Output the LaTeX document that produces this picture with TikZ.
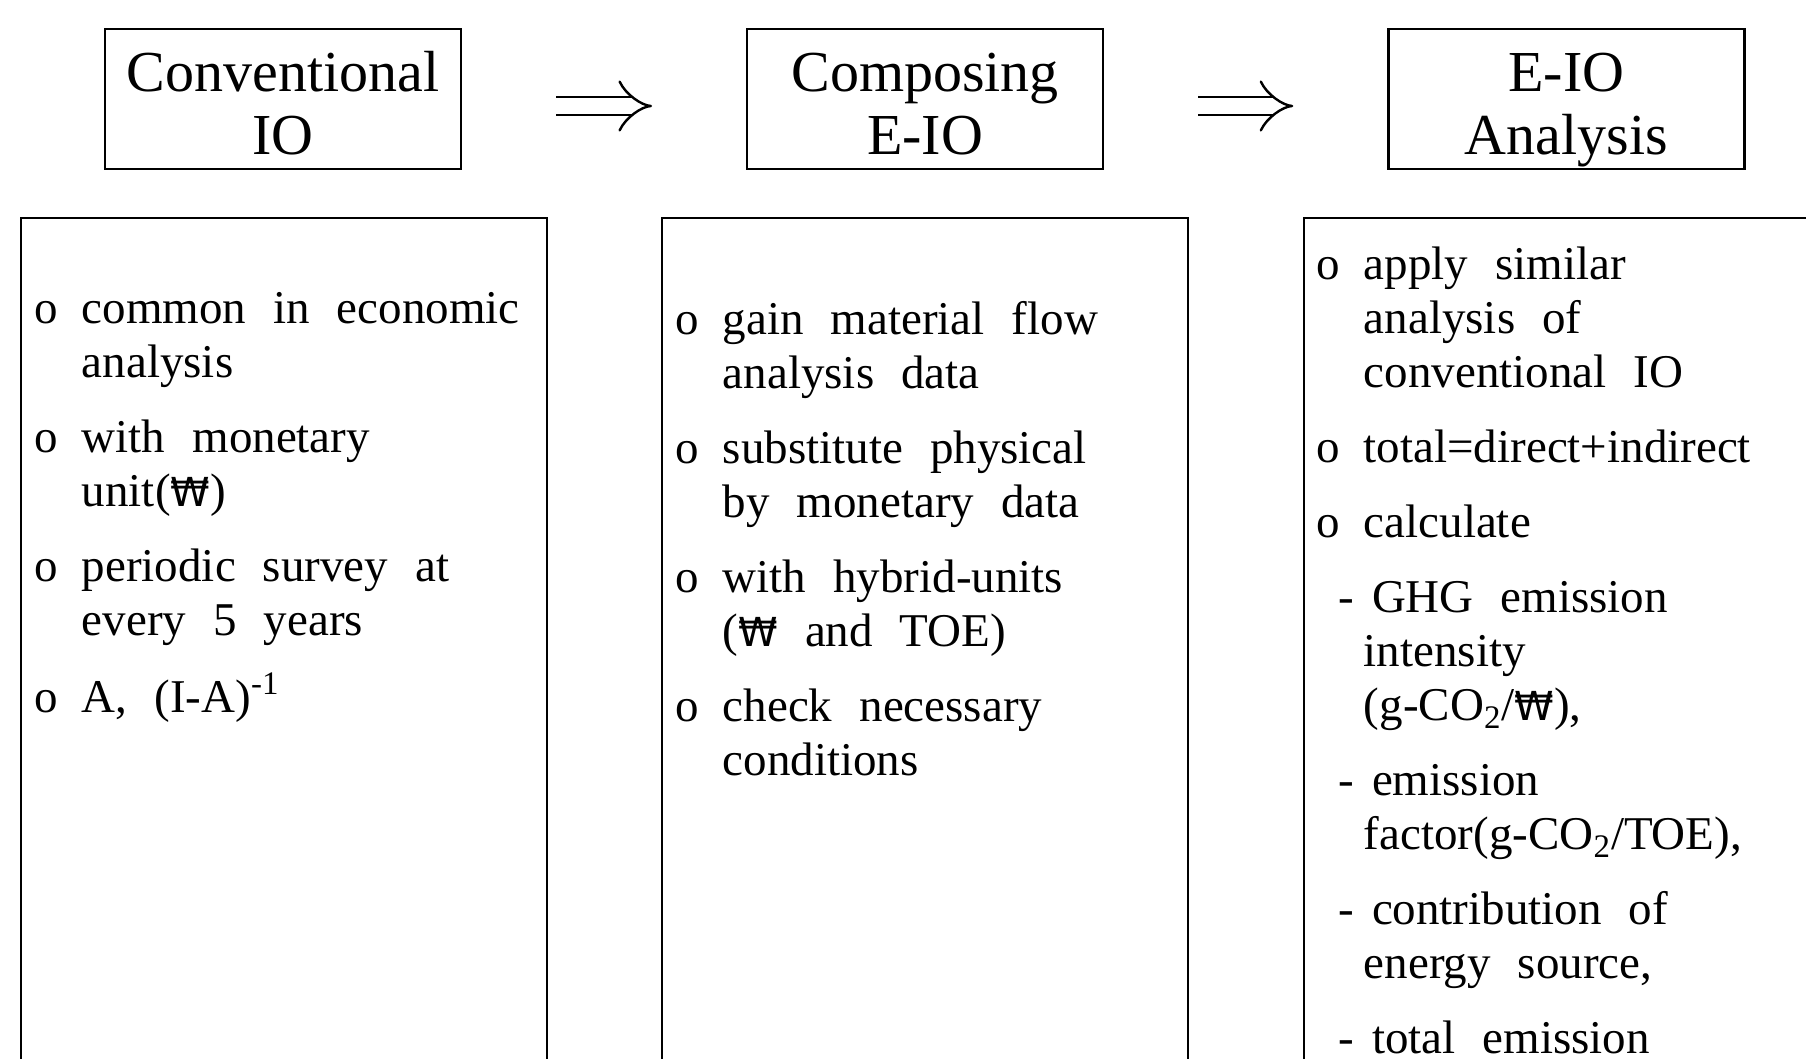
\documentclass[tikz,border=0pt]{standalone}
\usepackage{fontspec}
\setmainfont[WordSpace=2.3]{Liberation Serif}
\newfontfamily\wonfont[Scale=0.85]{DejaVu Sans}
\newcommand{\won}{{\wonfont ₩}}
\newcommand{\stagetext}[2]{\raisebox{0pt}[24.5pt][0pt]{#1}\\\raisebox{0pt}[0pt][0pt]{#2}}
\usetikzlibrary{arrows.meta, positioning}

\begin{document}
\begin{tikzpicture}[x=0.5pt, y=-0.5pt,
    stage/.style={draw, line width=1.1pt, minimum width=178pt, minimum height=70pt,
        inner sep=0pt, align=center, font=\fontsize{29}{31.5}\selectfont},
    panel/.style={draw, line width=1.1pt, anchor=north west, minimum width=263pt,
        minimum height=440pt, inner sep=0pt},
    items/.style={anchor=base west, inner sep=0pt, font=\fontsize{23.5}{27}\selectfont},
    flow/.style={double, double distance=8pt, line width=1.2pt,
        -{Implies[length=14pt, width=22pt]}, shorten <=47pt, shorten >=47pt}]
\useasboundingbox (0,0) rectangle (1806,1059);
\clip (0,0) rectangle (1806,1059);

% Stages
\node[stage] (conv) at (283,99) {\stagetext{Conventional}{IO}};
\node[stage, right=142pt of conv] (comp) {\stagetext{Composing}{E-IO}};
\node[stage, right=141.5pt of comp] (anal) {\stagetext{E-IO}{Analysis}};

% Stage arrows
\draw[flow] ([yshift=-3.5pt]conv.east) -- ([yshift=-3.5pt]comp.west);
\draw[flow] ([yshift=-3.5pt]comp.east) -- ([yshift=-3.5pt]anal.west);

% Panels
\node[panel] (convpanel) at (20,217) {};
\node[panel] (comppanel) at (661,217) {};
\node[panel] (analpanel) at (1303,217) {};

% Conventional IO items
\node[items] (convlist) at ([xshift=7pt, yshift=-53.5pt]convpanel.north west) {%
\begin{tabular}[t]{@{}l@{\hspace{12pt}}l@{}}
o & common in economic\\
  & analysis\\[10.5pt]
o & with monetary\\
  & unit(\won)\\[10.5pt]
o & periodic survey at\\
  & every 5 years\\[10.5pt]
o & A, (I-A)\textsuperscript{-1}
\end{tabular}};

% Composing E-IO items
\node[items] (complist) at ([xshift=7pt, yshift=-59pt]comppanel.north west) {%
\begin{tabular}[t]{@{}l@{\hspace{12pt}}l@{}}
o & gain material flow\\
  & analysis data\\[10.5pt]
o & substitute physical\\
  & by monetary data\\[10.5pt]
o & with hybrid-units\\
  & (\won{} and TOE)\\[10.5pt]
o & check necessary\\
  & conditions
\end{tabular}};

% E-IO analysis items
\node[items] (anallist) at ([xshift=6.5pt, yshift=-31.5pt]analpanel.north west) {%
\begin{tabular}[t]{@{}l@{\hspace{12pt}}l@{}}
o & apply similar\\
  & analysis of\\
  & conventional IO\\[10.5pt]
o & total=direct+indirect\\[10.5pt]
o & calculate\\[10.5pt]
\multicolumn{2}{@{}l@{}}{\hspace{11pt}-\hspace{9pt}GHG emission}\\
  & intensity\\
  & (g-CO\textsubscript{2}/\won),\\[10.5pt]
\multicolumn{2}{@{}l@{}}{\hspace{11pt}-\hspace{9pt}emission}\\
  & factor(g-CO\textsubscript{2}/TOE),\\[10.5pt]
\multicolumn{2}{@{}l@{}}{\hspace{11pt}-\hspace{9pt}contribution of}\\
  & energy source,\\[10.5pt]
\multicolumn{2}{@{}l@{}}{\hspace{11pt}-\hspace{9pt}total emission}
\end{tabular}};
\end{tikzpicture}
\end{document}
